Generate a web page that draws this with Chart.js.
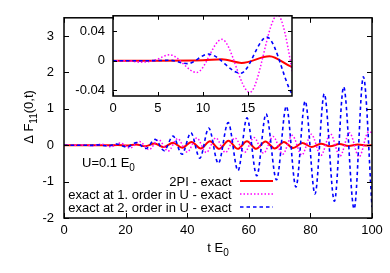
<!DOCTYPE html>
<html>
<head>
<meta charset="utf-8">
<script src="https://cdn.jsdelivr.net/npm/chart.js@4.4.0/dist/chart.umd.min.js"></script>
<style>
  body { margin: 0; background: #fff; }
  #wrap { position: relative; width: 390px; height: 273px; }
  canvas { position: absolute; left: 0; top: 0; }
</style>
</head>
<body>
<div id="wrap">
  <canvas id="main" width="390" height="273"></canvas>
  <canvas id="inset" width="390" height="273"></canvas>
</div>
<script>
// --- données (extrema des oscillations) ---
const tRed = [0, 5, 10, 12.1, 14.3, 17.4, 20.4, 23.4, 26.4, 29.4, 32.4, 35.4, 38.4, 41.4, 44.4, 47.4, 50.4, 53.4, 56.4, 59.4,
  62.4, 65.4, 68.4, 71.4, 74.4, 77.4, 80.4, 83.4, 86.4, 89.4, 92.4, 95.4, 98.4, 100];
const vRed = [0, 0, 0.0005, 0.002, -0.003, 0.006, -0.01, 0.02, -0.03, 0.045, -0.05, 0.07, -0.07, 0.09, -0.09, 0.11, -0.1, 0.12, -0.1, 0.11,
  -0.1, 0.1, -0.09, 0.09, -0.08, 0.06, -0.05, 0.04, -0.03, 0.03, -0.02, 0.02, -0.01, 0];

const tMag = [0, 1.5, 3, 4.5, 6.3, 9.3, 12.1, 15.2, 18.3, 21.4, 24.5, 27.6, 30.7, 33.8, 36.9, 40, 43.1, 46.2, 49.3, 52.4,
  55.5, 58.6, 61.7, 64.8, 67.9, 71, 74.1, 77.2, 80.3, 83.4, 86.5, 89.6, 92.7, 95.8, 98.9, 100];
const vMag = [0, 0, -0.002, 0, 0.008, -0.016, 0.029, -0.043, 0.062, -0.08, 0.1, -0.12, 0.15, -0.16, 0.18, -0.19, 0.2, -0.2, 0.2, -0.2,
  0.2, -0.2, 0.21, -0.22, 0.24, -0.25, 0.27, -0.27, 0.3, -0.28, 0.31, -0.3, 0.34, -0.32, 0.37, 0.35];

const tBlue = [0, 4, 6.3, 8.3, 10.6, 14.2, 17.1, 20.4, 23.5, 26.6, 29.6, 32.5, 35.4, 38.3, 41.2, 44.1, 47, 50.1, 53.3, 56.5,
  59.4, 62.6, 65.6, 69, 72.2, 75.3, 78.3, 81.5, 84.5, 87.8, 90.8, 94.2, 97.2, 100];
const vBlue = [0, 0, 0.0005, -0.004, 0.009, -0.017, 0.032, -0.05, 0.07, -0.09, 0.16, -0.15, 0.25, -0.25, 0.34, -0.36, 0.47, -0.5, 0.62, -0.7,
  0.75, -0.84, 0.86, -0.95, 1.07, -1.15, 1.21, -1.34, 1.41, -1.54, 1.6, -1.75, 1.88, -1.7];

const labels = ['2PI - exact', 'exact at 1. order in U - exact', 'exact at 2. order in U - exact'];

// graduations
const xTicksMain = [0, 20, 40, 60, 80, 100];
const yTicksMain = [-2, -1, 0, 1, 2, 3];
const xTicksInset = [0, 5, 10, 15];
const yTicksInset = [-0.04, 0, 0.04];

Chart.defaults.font.family = "'Liberation Sans', Arial, sans-serif";
Chart.defaults.font.size = 13;
Chart.defaults.color = '#000';

function pts(t, v) { return t.map((x, i) => ({ x: x, y: v[i] })); }

function makeDatasets() {
  return [
    { label: labels[0], data: pts(tRed, vRed), borderColor: '#ff0000', borderWidth: 2, order: 2 },
    { label: labels[1], data: pts(tMag, vMag), borderColor: '#ff00ff', borderWidth: 1.5, borderDash: [1.5, 2], order: 1 },
    { label: labels[2], data: pts(tBlue, vBlue), borderColor: '#0000ff', borderWidth: 1.6, borderDash: [3.5, 3], order: 0 }
  ].map(d => Object.assign(d, { pointRadius: 0, fill: false, cubicInterpolationMode: 'monotone' }));
}

// cadre + petites graduations vers l'intérieur (style gnuplot)
const framePlugin = {
  id: 'frame',
  beforeDraw(chart, args, opts) {
    if (!opts.whiteBg) return;
    const a = chart.chartArea;
    chart.ctx.save();
    chart.ctx.fillStyle = '#fff';
    chart.ctx.fillRect(a.left, a.top, a.width, a.height);
    chart.ctx.restore();
  },
  afterDatasetsDraw(chart, args, opts) {
    const { ctx, chartArea: a, scales: { x, y } } = chart;
    const len = opts.tickLen;
    ctx.save();
    ctx.strokeStyle = '#000';
    ctx.lineWidth = 1;
    ctx.beginPath();
    x.ticks.forEach(t => {
      const px = Math.round(x.getPixelForValue(t.value)) + 0.5;
      ctx.moveTo(px, a.bottom); ctx.lineTo(px, a.bottom - len);
      ctx.moveTo(px, a.top); ctx.lineTo(px, a.top + len);
    });
    y.ticks.forEach(t => {
      const py = Math.round(y.getPixelForValue(t.value)) + 0.5;
      ctx.moveTo(a.left, py); ctx.lineTo(a.left + len, py);
      ctx.moveTo(a.right, py); ctx.lineTo(a.right - len, py);
    });
    ctx.stroke();
    ctx.lineWidth = 1.5;
    ctx.strokeRect(a.left, a.top, a.width, a.height);
    ctx.restore();
  }
};

// texte avec indices
function richText(ctx, parts, x, y, align) {
  const big = "13px 'Liberation Sans', Arial, sans-serif";
  const small = "10px 'Liberation Sans', Arial, sans-serif";
  let w = 0;
  parts.forEach(p => { ctx.font = p.sub ? small : big; w += ctx.measureText(p.text).width; });
  let cx = align === 'center' ? x - w / 2 : x;
  parts.forEach(p => {
    ctx.font = p.sub ? small : big;
    ctx.fillText(p.text, cx, p.sub ? y + 4 : y);
    cx += ctx.measureText(p.text).width;
  });
}

const annotPlugin = {
  id: 'annot',
  afterDraw(chart) {
    const ctx = chart.ctx;
    const a = chart.chartArea;
    ctx.save();
    ctx.fillStyle = '#000';
    ctx.textBaseline = 'alphabetic';
    ctx.textAlign = 'left';
    // titre axe x
    richText(ctx, [{ text: 't E' }, { text: '0', sub: true }], (a.left + a.right) / 2, 251.5, 'center');
    // texte U
    richText(ctx, [{ text: 'U=0.1 E' }, { text: '0', sub: true }], 82, 166.5, 'left');
    // titre axe y
    ctx.save();
    ctx.translate(33, 117);
    ctx.rotate(-Math.PI / 2);
    richText(ctx, [{ text: '\u0394 F' }, { text: '11', sub: true }, { text: '(0,t)' }], 0, 0, 'center');
    ctx.restore();
    // légende
    ctx.font = "13px 'Liberation Sans', Arial, sans-serif";
    ctx.textAlign = 'right';
    ctx.textBaseline = 'middle';
    const rows = [181, 194, 207];
    chart.data.datasets.forEach((d, i) => {
      ctx.fillText(d.label, 231.5, rows[i] + 1);
      ctx.save();
      ctx.strokeStyle = d.borderColor;
      ctx.lineWidth = d.borderWidth;
      ctx.setLineDash(d.borderDash || []);
      ctx.beginPath();
      ctx.moveTo(240, rows[i]);
      ctx.lineTo(273, rows[i]);
      ctx.stroke();
      ctx.restore();
    });
    ctx.restore();
  }
};

function axis(min, max, ticks, pad, fitKey, fitVal) {
  return {
    type: 'linear', min: min, max: max,
    grid: { display: false, drawTicks: false },
    border: { display: false },
    ticks: { padding: pad, callback: v => String(v), autoSkip: false, maxRotation: 0 },
    afterBuildTicks: s => { s.ticks = ticks.map(v => ({ value: v })); },
    afterFit: s => { s[fitKey] = fitVal; }
  };
}

// graphique principal
new Chart(document.getElementById('main'), {
  type: 'line',
  data: { datasets: makeDatasets() },
  options: {
    responsive: false, animation: false, devicePixelRatio: 1,
    layout: { padding: { left: 0, right: 18, top: 15, bottom: 0 } },
    scales: {
      x: axis(0, 100, xTicksMain, 5, 'height', 55),
      y: axis(-2, 3.5, yTicksMain, 10, 'width', 64)
    },
    plugins: { legend: { display: false }, tooltip: { enabled: false }, frame: { tickLen: 5 } }
  },
  plugins: [framePlugin, annotPlugin]
});

// encart (zoom sur 0..20)
new Chart(document.getElementById('inset'), {
  type: 'line',
  data: { datasets: makeDatasets() },
  options: {
    responsive: false, animation: false, devicePixelRatio: 1,
    layout: { padding: { left: 0, right: 98, top: 15, bottom: 157 } },
    scales: {
      x: axis(0, 19.9, xTicksInset, 5, 'height', 20),
      y: axis(-0.048, 0.061, yTicksInset, 8, 'width', 113)
    },
    plugins: { legend: { display: false }, tooltip: { enabled: false }, frame: { tickLen: 4, whiteBg: true } }
  },
  plugins: [framePlugin]
});
</script>
</body>
</html>
